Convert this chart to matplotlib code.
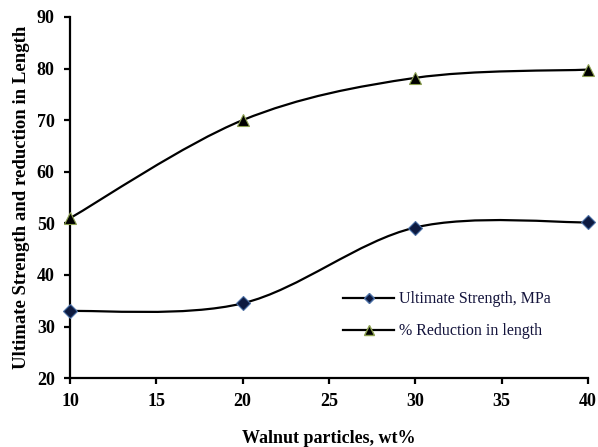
import numpy as np
import matplotlib.pyplot as plt
from matplotlib.path import Path
from matplotlib.patches import PathPatch
from matplotlib.lines import Line2D

plt.rcParams['font.family'] = ['Liberation Serif', 'DejaVu Serif']
plt.rcParams['font.weight'] = 'bold'

# Data
wt = [10, 20, 30, 40]
strength = [33.0, 34.5, 49.2, 50.2]
reduction = [51.0, 70.0, 78.2, 79.8]


def smoothPath(x, y):
    """ Builds an Excel-like smoothed line (Catmull-Rom bezier) through the points. """

    x = np.asarray(x, float)
    y = np.asarray(y, float)
    n = len(x)
    verts = [(x[0], y[0])]
    codes = [Path.MOVETO]
    for i in range(n - 1):
        i0 = max(i - 1, 0)
        i3 = min(i + 2, n - 1)
        c1 = (x[i] + (x[i + 1] - x[i0]) / 6, y[i] + (y[i + 1] - y[i0]) / 6)
        c2 = (x[i + 1] - (x[i3] - x[i]) / 6, y[i + 1] - (y[i3] - y[i]) / 6)
        verts += [c1, c2, (x[i + 1], y[i + 1])]
        codes += [Path.CURVE4] * 3
    return Path(verts, codes)


fig = plt.figure(figsize=(5.98, 4.47), dpi=100)
ax = fig.add_axes([0.117, 0.154, 0.866, 0.808])

for yy in (strength, reduction):
    ax.add_patch(PathPatch(smoothPath(wt, yy), facecolor='none', edgecolor='black', lw=1.6, zorder=2))

ax.plot(wt, strength, linestyle='', marker='D', markersize=7, markerfacecolor='#0d1a40',
        markeredgecolor='#4a6fa5', markeredgewidth=0.8, zorder=3, clip_on=False)
ax.plot(wt, reduction, linestyle='', marker='^', markersize=9, markerfacecolor='black',
        markeredgecolor='#8ca050', markeredgewidth=0.8, zorder=3, clip_on=False)

ax.set_xlim(10, 40)
ax.set_ylim(20, 90)
ax.set_xticks(np.arange(10, 41, 5))
ax.set_yticks(np.arange(20, 91, 10))

for s in ('top', 'right'):
    ax.spines[s].set_visible(False)
for s in ('left', 'bottom'):
    ax.spines[s].set_linewidth(1.6)
ax.tick_params(direction='out', length=4, width=1.6, labelsize=13, pad=7)

ax.set_xlabel('Walnut particles, wt%', fontsize=13, fontweight='bold', labelpad=14)
ax.set_ylabel('Ultimate Strength and reduction in Length', fontsize=13.5, fontweight='bold', labelpad=5)

handles = [
    Line2D([], [], color='black', lw=1.6, marker='D', markersize=5, markerfacecolor='#0d1a40',
           markeredgecolor='#4a6fa5'),
    Line2D([], [], color='black', lw=1.6, marker='^', markersize=7, markerfacecolor='black',
           markeredgecolor='#8ca050'),
]
leg = ax.legend(handles, ['Ultimate Strength, MPa', '% Reduction in length'], loc='upper left',
                bbox_to_anchor=(0.5, 0.28), frameon=False, prop={'size': 11.5, 'weight': 'normal'},
                handlelength=3.2, handletextpad=0.3, labelspacing=1.0)
for t in leg.get_texts():
    t.set_color('#14143c')

fig.savefig('out.png', dpi=100)
